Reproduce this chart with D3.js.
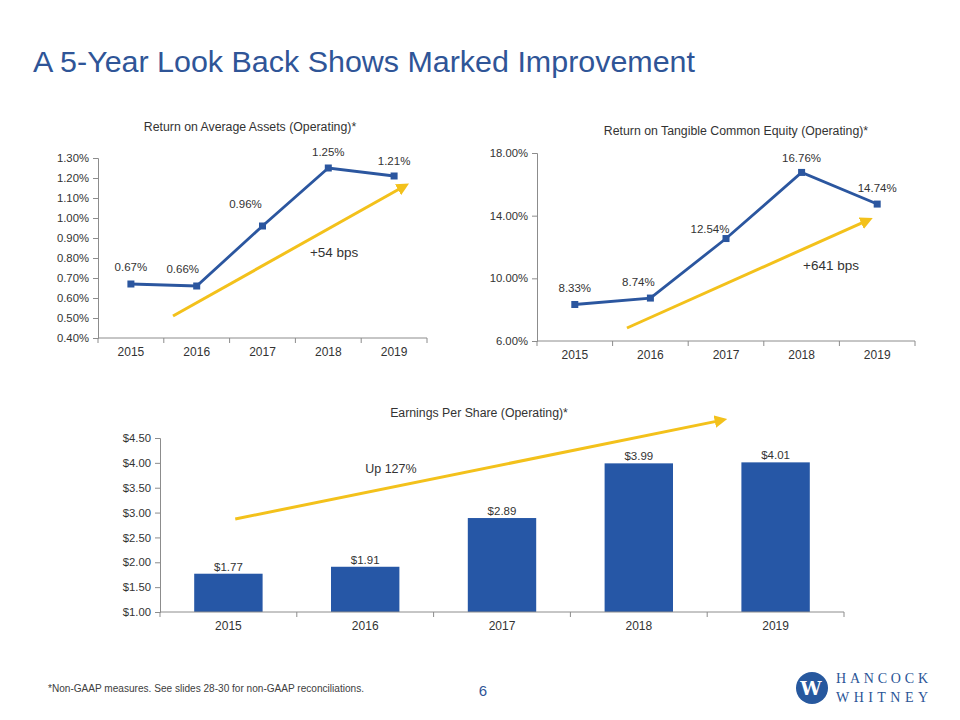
<!DOCTYPE html>
<html>
<head>
<meta charset="utf-8">
<script src="https://cdn.jsdelivr.net/npm/d3@7"></script>
<style>
  body { margin: 0; background: #fff; }
  svg { display: block; }
  text { font-family: "Liberation Sans", Arial, sans-serif; fill: #333; }
</style>
</head>
<body>
<svg id="chart" width="960" height="720"></svg>
<script>
// ---------- DATA ----------
const years = ["2015", "2016", "2017", "2018", "2019"];
const roaValues = [0.67, 0.66, 0.96, 1.25, 1.21];
const roaTicks = [0.40, 0.50, 0.60, 0.70, 0.80, 0.90, 1.00, 1.10, 1.20, 1.30];
const rotceValues = [8.33, 8.74, 12.54, 16.76, 14.74];
const rotceTicks = [6, 10, 14, 18];
const epsValues = [1.77, 1.91, 2.89, 3.99, 4.01];
const epsTicks = [1.0, 1.5, 2.0, 2.5, 3.0, 3.5, 4.0, 4.5];

const pageTitle = "A 5-Year Look Back Shows Marked Improvement";
const roaTitle = "Return on Average Assets (Operating)*";
const rotceTitle = "Return on Tangible Common Equity (Operating)*";
const epsTitle = "Earnings Per Share (Operating)*";
const roaNote = "+54 bps";
const rotceNote = "+641 bps";
const epsNote = "Up 127%";
const footnote = "*Non-GAAP measures. See slides 28-30 for non-GAAP reconciliations.";
const pageNumber = "6";

// arrow annotations in data units: [categoryIndex, value]
const roaArrow = [[0.64, 0.51], [4.16, 1.16]];
const rotceArrow = [[0.69, 6.83], [3.88, 13.72]];
const epsArrow = [[0.05, 2.87], [3.61, 4.86]];

// ---------- STYLE / LAYOUT ----------
const BLUE = "#2b569f";
const BAR = "#2657a6";
const YELLOW = "#f3c11b";
const AXIS = "#8c8c8c";
const TXT = "#333333";
const FS_TICK = "11.3px";
const FS_LBL = "11.5px";
const FS_TITLE = "12.3px";

const svg = d3.select("#chart");

svg.append("text")
  .attr("x", 33).attr("y", 72)
  .attr("textLength", 662).attr("lengthAdjust", "spacingAndGlyphs")
  .style("font-family", "'Liberation Sans Narrow','Arial Narrow','Liberation Sans',sans-serif")
  .style("font-size", "30px").style("fill", "#2f5597")
  .text(pageTitle);

svg.append("defs").append("marker")
  .attr("id", "arrowhead").attr("viewBox", "0 0 10 10")
  .attr("refX", 6).attr("refY", 5)
  .attr("markerWidth", 4.2).attr("markerHeight", 4.2)
  .attr("orient", "auto")
  .append("path").attr("d", "M0,0 L10,5 L0,10 Z").attr("fill", YELLOW);

function yAxisDraw(g, y, ticks, fmt) {
  const ax = g.append("g").call(d3.axisLeft(y).tickValues(ticks).tickFormat(fmt).tickSize(5).tickPadding(4));
  ax.select(".domain").attr("stroke", AXIS);
  ax.selectAll(".tick line").attr("stroke", AXIS);
  ax.selectAll(".tick text").style("font-size", FS_TICK).style("fill", TXT)
    .style("font-family", "'Liberation Sans', Arial, sans-serif");
}
function xAxisDraw(g, x, h, w) {
  const ax = g.append("g").attr("transform", `translate(0,${h})`)
    .call(d3.axisBottom(x).tickSize(0).tickPadding(9));
  ax.select(".domain").attr("stroke", AXIS).attr("d", `M0,0H${w}`);
  ax.selectAll(".tick text").style("font-size", "12px").style("fill", TXT)
    .style("font-family", "'Liberation Sans', Arial, sans-serif");
  const bounds = d3.range(x.domain().length + 1).map(i => i * x.step());
  g.append("g").selectAll("line").data(bounds).join("line")
    .attr("x1", d => d).attr("x2", d => d).attr("y1", h).attr("y2", h + 5)
    .attr("stroke", AXIS);
}

function lineChart(opts) {
  const { left, top, width, height, values, ticks, fmt, labelFmt, title, titleX, titleY,
          arrow, note, noteAt, labelDx, labelDy } = opts;
  const g = svg.append("g").attr("transform", `translate(${left},${top})`);
  const x = d3.scaleBand().domain(years).range([0, width]);
  const y = d3.scaleLinear().domain([ticks[0], ticks[ticks.length - 1]]).range([height, 0]);
  const xi = d3.scaleLinear().domain([0, years.length - 1])
    .range([x(years[0]) + x.bandwidth() / 2, x(years[years.length - 1]) + x.bandwidth() / 2]);

  yAxisDraw(g, y, ticks, fmt);
  xAxisDraw(g, x, height, width);

  svg.append("text").attr("x", titleX).attr("y", titleY).attr("text-anchor", "middle")
    .style("font-size", FS_TITLE).style("fill", TXT).text(title);

  g.append("line")
    .attr("x1", xi(arrow[0][0])).attr("y1", y(arrow[0][1]))
    .attr("x2", xi(arrow[1][0])).attr("y2", y(arrow[1][1]))
    .attr("stroke", YELLOW).attr("stroke-width", 3).attr("marker-end", "url(#arrowhead)");

  const pts = values.map((v, i) => [x(years[i]) + x.bandwidth() / 2, y(v)]);
  g.append("path").datum(pts).attr("d", d3.line())
    .attr("fill", "none").attr("stroke", BLUE).attr("stroke-width", 2.8);
  g.selectAll("rect.m").data(pts).join("rect").attr("class", "m")
    .attr("x", d => d[0] - 3.5).attr("y", d => d[1] - 3.5)
    .attr("width", 7).attr("height", 7).attr("fill", BLUE);

  g.selectAll("text.lbl").data(values).join("text").attr("class", "lbl")
    .attr("x", (d, i) => pts[i][0] + labelDx[i])
    .attr("y", (d, i) => pts[i][1] + labelDy[i])
    .attr("text-anchor", "middle").style("font-size", FS_LBL).style("fill", TXT)
    .text(labelFmt);

  g.append("text").attr("x", xi(noteAt[0])).attr("y", y(noteAt[1]))
    .style("font-size", "13.5px").style("fill", TXT).text(note);
}

lineChart({
  left: 98, top: 158, width: 329, height: 180,
  values: roaValues, ticks: roaTicks,
  fmt: d => d.toFixed(2) + "%", labelFmt: d => d.toFixed(2) + "%",
  title: roaTitle, titleX: 250, titleY: 131,
  arrow: roaArrow, note: roaNote, noteAt: [2.72, 0.805],
  labelDx: [0, -14, -17, 0, 0], labelDy: [-13, -13, -18, -12, -11]
});

lineChart({
  left: 537, top: 153, width: 378, height: 188,
  values: rotceValues, ticks: rotceTicks,
  fmt: d => d.toFixed(2) + "%", labelFmt: d => d.toFixed(2) + "%",
  title: rotceTitle, titleX: 736, titleY: 135,
  arrow: rotceArrow, note: rotceNote, noteAt: [3.02, 10.53],
  labelDx: [0, -12, -16, 0, 0], labelDy: [-12, -12, -6, -10, -12]
});

// ---------- EPS bar chart ----------
(function () {
  const left = 160, top = 438, width = 684, height = 174;
  const g = svg.append("g").attr("transform", `translate(${left},${top})`);
  const x = d3.scaleBand().domain(years).range([0, width]).paddingInner(0.5).paddingOuter(0.25);
  const xb = d3.scaleBand().domain(years).range([0, width]);
  const y = d3.scaleLinear().domain([1.0, 4.5]).range([height, 0]);
  const xi = d3.scaleLinear().domain([0, years.length - 1])
    .range([xb(years[0]) + xb.bandwidth() / 2, xb(years[years.length - 1]) + xb.bandwidth() / 2]);

  yAxisDraw(g, y, epsTicks, d => "$" + d.toFixed(2));

  g.selectAll("rect.bar").data(epsValues).join("rect").attr("class", "bar")
    .attr("x", (d, i) => x(years[i])).attr("width", x.bandwidth())
    .attr("y", d => y(d)).attr("height", d => height - y(d)).attr("fill", BAR);

  xAxisDraw(g, xb, height, width);

  svg.append("text").attr("x", 479).attr("y", 417).attr("text-anchor", "middle")
    .style("font-size", FS_TITLE).style("fill", TXT).text(epsTitle);

  g.selectAll("text.lbl").data(epsValues).join("text").attr("class", "lbl")
    .attr("x", (d, i) => x(years[i]) + x.bandwidth() / 2)
    .attr("y", d => y(d) - 3)
    .attr("text-anchor", "middle").style("font-size", FS_LBL).style("fill", TXT)
    .text(d => "$" + d.toFixed(2));

  g.append("line")
    .attr("x1", xi(epsArrow[0][0])).attr("y1", y(epsArrow[0][1]))
    .attr("x2", xi(epsArrow[1][0])).attr("y2", y(epsArrow[1][1]))
    .attr("stroke", YELLOW).attr("stroke-width", 3).attr("marker-end", "url(#arrowhead)");

  g.append("text").attr("x", xi(1.0)).attr("y", y(3.8))
    .style("font-size", "12.5px").style("fill", TXT).text(epsNote);
})();

// ---------- footer ----------
svg.append("text").attr("x", 48).attr("y", 692)
  .attr("textLength", 316).attr("lengthAdjust", "spacingAndGlyphs")
  .style("font-family", "'Liberation Sans Narrow','Arial Narrow','Liberation Sans',sans-serif")
  .style("font-size", "10px").style("fill", "#404040").text(footnote);

svg.append("text").attr("x", 483).attr("y", 696).attr("text-anchor", "middle")
  .style("font-size", "15px").style("fill", "#2f5597").text(pageNumber);

// logo
const logo = svg.append("g");
logo.append("circle").attr("cx", 812).attr("cy", 688).attr("r", 16).attr("fill", "#27589e");
logo.append("text").attr("x", 811).attr("y", 695).attr("text-anchor", "middle")
  .style("font-family", "'DejaVu Serif','Liberation Serif',serif").style("font-weight", "bold")
  .style("font-size", "19px").style("fill", "#fff").text("W");
logo.append("text").attr("x", 836).attr("y", 683)
  .attr("textLength", 92).attr("lengthAdjust", "spacing")
  .style("font-family", "'Liberation Serif','DejaVu Serif',serif")
  .style("font-size", "14px").style("fill", "#2a5496").text("HANCOCK");
logo.append("text").attr("x", 836).attr("y", 702)
  .attr("textLength", 92).attr("lengthAdjust", "spacing")
  .style("font-family", "'Liberation Serif','DejaVu Serif',serif")
  .style("font-size", "14px").style("fill", "#2a5496").text("WHITNEY");
</script>
</body>
</html>
